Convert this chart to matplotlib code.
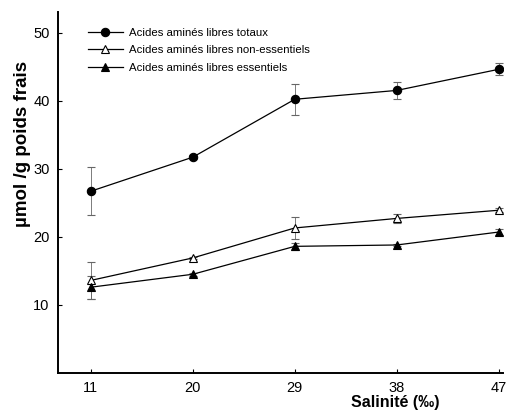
import matplotlib
matplotlib.use("Agg")
import matplotlib.pyplot as plt

salinity = [11, 20, 29, 38, 47]
totaux = [26.7, 31.7, 40.2, 41.5, 44.6]
totaux_err = [3.5, 0.3, 2.3, 1.2, 0.9]
non_ess = [13.6, 16.9, 21.3, 22.7, 23.9]
non_ess_err = [2.7, 0.2, 1.6, 0.7, 0.3]
ess = [12.6, 14.5, 18.6, 18.8, 20.7]
ess_err = [1.7, 0.2, 0.5, 0.2, 0.5]
labels = ["Acides aminés libres totaux",
          "Acides aminés libres non-essentiels",
          "Acides aminés libres essentiels"]

plt.rcParams['font.family'] = ['Liberation Sans', 'DejaVu Sans']

fig = plt.figure(figsize=(5.14, 4.11), dpi=100)
ax = fig.add_axes([0.113, 0.0925, 0.866, 0.878])

for y, e, m, fc, lab in [(totaux, totaux_err, 'o', 'black', labels[0]),
                         (non_ess, non_ess_err, '^', 'white', labels[1]),
                         (ess, ess_err, '^', 'black', labels[2])]:
    ax.errorbar(salinity, y, yerr=e, fmt='none', ecolor='#666666',
                elinewidth=0.6, capsize=3, capthick=0.8, zorder=1)
    ax.plot(salinity, y, color='black', lw=0.9, marker=m, ms=6 if m == 'o' else 5.5,
            mfc=fc, mec='black', mew=0.8, label=lab, zorder=3)

ax.set_xlim(8.1, 47.4)
ax.set_ylim(0, 53)
ax.set_xticks(salinity)
ax.set_yticks([10, 20, 30, 40, 50])
for s in ['top', 'right']:
    ax.spines[s].set_visible(False)
for s in ['left', 'bottom']:
    ax.spines[s].set_linewidth(1.4)
ax.tick_params(direction='in', length=3, width=0.8, labelsize=10.5, pad=6)

ax.set_ylabel("µmol /g poids frais", fontsize=13.5, fontweight='bold')
ax.yaxis.set_label_coords(-0.06, 0.634)
ax.text(0.757, -0.083, "Salinité (‰)", transform=ax.transAxes, fontsize=11.5,
        fontweight='bold', ha='center', va='center')

leg = ax.legend(loc='upper left', bbox_to_anchor=(0.045, 0.985), frameon=False,
                fontsize=8.2, handlelength=3, labelspacing=0.65, handletextpad=0.6)

fig.savefig("out.png", dpi=100)
